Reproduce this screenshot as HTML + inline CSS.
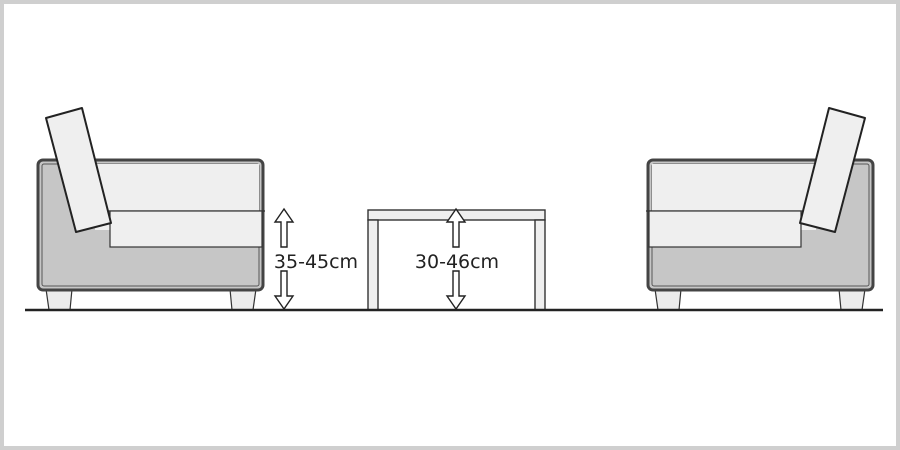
<!DOCTYPE html>
<html><head><meta charset="utf-8"><style>
html,body{margin:0;padding:0;background:#fff}
.f{position:relative;width:900px;height:450px;box-sizing:border-box;border:4px solid #cfcfcf;background:#fff;overflow:hidden}
svg{position:absolute;left:-4px;top:-4px}
</style></head><body><div class="f">
<svg width="900" height="450" viewBox="0 0 900 450">
<defs>
<g id="sofa">
 <polygon points="46,289 72,289 70,310 49,310" fill="#ececec" stroke="#333" stroke-width="1.2"/>
 <polygon points="230,289 256,289 253,310 232,310" fill="#ececec" stroke="#333" stroke-width="1.2"/>
 <rect x="38" y="160" width="225" height="130" rx="5" fill="#c6c6c6" stroke="#444" stroke-width="3"/>
 <rect x="42" y="164" width="217" height="122" rx="2" fill="none" stroke="#555" stroke-width="1"/>
 <rect x="80" y="164" width="179" height="47" fill="#efefef" stroke="none"/>
 <line x1="80" y1="211" x2="265" y2="211" stroke="#333" stroke-width="1.2"/>
 <polygon points="95,230 112,230 112,213 95,213" fill="#efefef"/>
 <rect x="110" y="211" width="152" height="36" fill="#efefef" stroke="#333" stroke-width="1.2"/>
 <polygon points="46,118 82,108 111,223 76,232" fill="#efefef" stroke="#222" stroke-width="2" stroke-linejoin="round"/>
</g>
<g id="arrow">
 <polygon points="0,0 -9,13 -3,13 -3,38 3,38 3,13 9,13" fill="#fff" stroke="#222" stroke-width="1.4"/>
</g>
</defs>
<use href="#sofa"/>
<use href="#sofa" transform="translate(911,0) scale(-1,1)"/>
<rect x="368" y="210" width="177" height="10" fill="#efefef" stroke="#333" stroke-width="1.4"/>
<rect x="368" y="220" width="10" height="90" fill="#efefef" stroke="#333" stroke-width="1.4"/>
<rect x="535" y="220" width="10" height="90" fill="#efefef" stroke="#333" stroke-width="1.4"/>
<line x1="25" y1="310" x2="883" y2="310" stroke="#222" stroke-width="2.5"/>
<use href="#arrow" transform="translate(284,209)"/>
<use href="#arrow" transform="translate(284,309) scale(1,-1)"/>
<use href="#arrow" transform="translate(456,209)"/>
<use href="#arrow" transform="translate(456,309) scale(1,-1)"/>
<text x="316" y="268" font-family="DejaVu Sans, sans-serif" font-size="19" text-anchor="middle" fill="#222">35-45cm</text>
<text x="457" y="268" font-family="DejaVu Sans, sans-serif" font-size="19" text-anchor="middle" fill="#222">30-46cm</text>
</svg>
</div></body></html>
